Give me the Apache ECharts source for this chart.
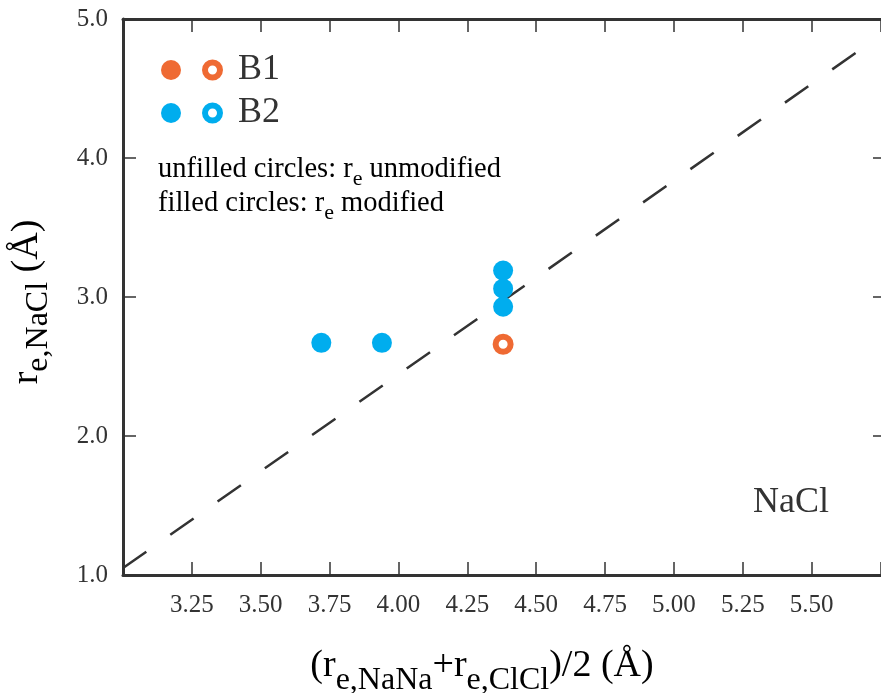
<!DOCTYPE html>
<html><head><meta charset="utf-8">
<script src="https://cdn.jsdelivr.net/npm/echarts@6/dist/echarts.min.js"></script>
<style>html,body{margin:0;padding:0;background:#fff}#c{width:881px;height:693px}</style>
</head><body><div id="c"></div>
<script>
// ---- data ----
const xTickLabels = ['3.25','3.50','3.75','4.00','4.25','4.50','4.75','5.00','5.25','5.50'];
const yTickLabels = ['1.0','2.0','3.0','4.0','5.0'];
const b2Filled = [[3.72,2.67],[3.94,2.67],[4.38,3.19],[4.38,3.06],[4.38,2.93]];
const b1Unfilled = [[4.38,2.66]];
const refLine = [[3.0,1.05],[5.67,4.77]];
const legendNames = ['B1','B2'];
const noteLines = ['unfilled circles: ', 'filled circles: '];

// ---- style ----
const ORANGE = '#EF6A33', BLUE = '#00ADEE', INK = '#333333';
const FONT = 'Liberation Serif';
const chart = echarts.init(document.getElementById('c'));

const axisCommon = {
  type:'value',
  axisLine:{show:true, lineStyle:{color:INK, width:3}},
  axisTick:{show:true, inside:true, length:13, lineStyle:{color:INK, width:1.5}},
  splitLine:{show:false}
};

chart.setOption({
  backgroundColor:'#fff',
  animation:false,
  grid:{left:123, top:19, width:763, height:556, outerBoundsMode:'none', containLabel:false},
  xAxis:[
    Object.assign({}, axisCommon, {position:'bottom', min:3.0, max:5.77, interval:0.25,
      axisLabel:{margin:18, color:INK, fontFamily:FONT, fontSize:25,
        formatter:v=>{const s=v.toFixed(2); return xTickLabels.includes(s)?s:'';}}}),
    Object.assign({}, axisCommon, {position:'top', min:3.0, max:5.77, interval:0.25,
      axisLabel:{show:false}})
  ],
  yAxis:[
    Object.assign({}, axisCommon, {position:'left', min:1, max:5, interval:1,
      axisLabel:{margin:15, color:INK, fontFamily:FONT, fontSize:25, padding:[6,0,0,0],
        formatter:v=>{const s=v.toFixed(1); return yTickLabels.includes(s)?s:'';}}}),
    Object.assign({}, axisCommon, {position:'right', min:1, max:5, interval:1,
      axisLabel:{show:false}})
  ],
  series:[
    {type:'line', data:refLine, symbol:'none', silent:true, z:1,
      lineStyle:{color:INK, width:2.5, type:[28.5,29.3]}},
    {type:'scatter', name:'B2', data:b2Filled, symbol:'circle', symbolSize:20, z:3,
      itemStyle:{color:BLUE, opacity:1}},
    {type:'scatter', name:'B1', data:b1Unfilled, symbol:'circle', symbolSize:15, z:3,
      itemStyle:{color:'#fff', borderColor:ORANGE, borderWidth:6, opacity:1}}
  ],
  graphic:[
    // legend
    {type:'circle', shape:{cx:171, cy:70, r:10}, style:{fill:ORANGE}},
    {type:'circle', shape:{cx:212.5, cy:70, r:7.5}, style:{fill:'#fff', stroke:ORANGE, lineWidth:6}},
    {type:'text', x:238, y:70, style:{text:legendNames[0], font:'36px '+FONT, fill:INK, textVerticalAlign:'middle'}},
    {type:'circle', shape:{cx:171, cy:113, r:10}, style:{fill:BLUE}},
    {type:'circle', shape:{cx:212.5, cy:113, r:7.5}, style:{fill:'#fff', stroke:BLUE, lineWidth:6}},
    {type:'text', x:238, y:113, style:{text:legendNames[1], font:'36px '+FONT, fill:INK, textVerticalAlign:'middle'}},
    // notes
    {type:'text', x:158, y:170, style:{
      text:'{m|'+noteLines[0]+'r}{s|e}{m| unmodified}', textVerticalAlign:'middle',
      rich:{m:{fontSize:28.5, fontFamily:FONT, color:INK}, s:{fontSize:22, fontFamily:FONT, color:INK, padding:[19,0,0,0]}}}},
    {type:'text', x:158, y:204, style:{
      text:'{m|'+noteLines[1]+'r}{s|e}{m| modified}', textVerticalAlign:'middle',
      rich:{m:{fontSize:28.5, fontFamily:FONT, color:INK}, s:{fontSize:22, fontFamily:FONT, color:INK, padding:[19,0,0,0]}}}},
    // NaCl
    {type:'text', x:753, y:503, style:{text:'NaCl', font:'36px '+FONT, fill:INK, textVerticalAlign:'middle'}},
    // x title
    {type:'text', x:482, y:666, style:{
      text:'{m|(r}{s|e,NaNa}{m|+r}{s|e,ClCl}{m|)/2 (Å)}', textAlign:'center', textVerticalAlign:'middle',
      rich:{m:{fontSize:38, fontFamily:FONT, color:INK}, s:{fontSize:32, fontFamily:FONT, color:INK, padding:[30,0,0,0]}}}},
    // y title
    {type:'text', x:27, y:302, rotation:Math.PI/2, style:{
      text:'{m|r}{s|e,NaCl}{m| (Å)}', textAlign:'center', textVerticalAlign:'middle',
      rich:{m:{fontSize:38, fontFamily:FONT, color:INK}, s:{fontSize:32, fontFamily:FONT, color:INK, padding:[24,0,0,0]}}}}
  ]
});
</script></body></html>
